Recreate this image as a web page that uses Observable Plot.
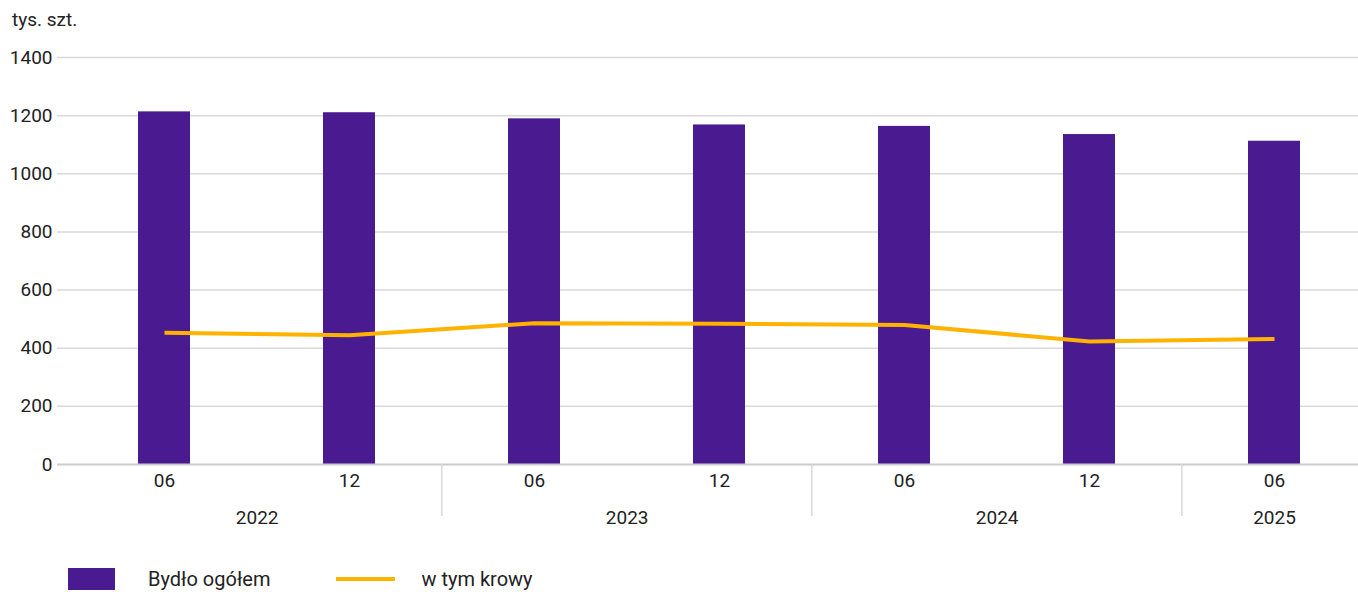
<!DOCTYPE html>
<html><head><meta charset="utf-8">
<script src="https://cdn.jsdelivr.net/npm/d3@7"></script>
<script src="https://cdn.jsdelivr.net/npm/@observablehq/plot@0.6"></script>
<style>
body{margin:0;background:#fff;font-family:Roboto,"Noto Sans",sans-serif;color:#222;overflow:hidden;}
#title{height:40px;line-height:40px;padding-left:12px;font-size:19px;}
#chart svg{display:block;}
#legend{display:flex;align-items:center;padding-left:68px;margin-top:28px;font-size:20px;height:22px;line-height:22px;}
.sw{width:47px;height:22px;background:#4a1a90;margin-right:33px;}
.ln{width:59px;height:4px;background:#ffb300;margin-left:66px;margin-right:26px;}
</style></head><body>
<div id="title">tys. szt.</div>
<div id="chart"></div>
<div id="legend"><div class="sw"></div><span>Bydło ogółem</span><div class="ln"></div><span>w tym krowy</span></div>
<script>
const periods = ["2022-06","2022-12","2023-06","2023-12","2024-06","2024-12","2025-06"];
const months  = ["06","12","06","12","06","12","06"];
const years   = ["2022","2022","2023","2023","2024","2024","2025"];
const bydlo   = [1213,1210,1189,1168,1163,1135,1112];
const krowy   = [453,445,486,484,480,423,432];
const yTicks  = [0,200,400,600,800,1000,1200,1400];

const data = periods.map((p,i)=>({period:p, month:months[i], year:years[i], bydlo:bydlo[i], krowy:krowy[i]}));
const monthOf = new Map(data.map(d=>[d.period,d.month]));

const W = 1358, H = 500, mL = 57, mR = 0, mT = 17, mB = 76;
const xRange = [70.35, 1367.45];
const step = (xRange[1]-xRange[0]) / periods.length;

// year groups
const yearGroups = d3.groups(data, d=>d.year).map(([y, rows])=>({year:y, first:rows[0].period, n:rows.length}));
const separators = yearGroups.slice(1).map(g=>({period:g.first}));

const yearMarks = yearGroups.map(g => Plot.text([g], {
  x: "first", text: "year", frameAnchor: "bottom", lineAnchor: "middle",
  dy: 53, dx: (g.n - 1) * step / 2, fill: "#222"
}));

const chart = Plot.plot({
  width: W, height: H,
  marginLeft: mL, marginRight: mR, marginTop: mT, marginBottom: mB,
  style: {fontFamily: "Roboto, 'Noto Sans', sans-serif", fontSize: "19px", color: "#222", background: "#fff"},
  x: {type: "band", domain: periods, range: xRange, paddingInner: 0.72, paddingOuter: 0.36, label: null},
  y: {domain: [0, 1400], label: null},
  marks: [
    Plot.ruleY(yTicks.filter(d=>d>0), {stroke: "#d9d9d9", strokeWidth: 1.5}),
    Plot.barY(data, {x: "period", y: "bydlo", fill: "#4a1a90"}),
    Plot.ruleY([0], {stroke: "#cccccc", strokeWidth: 2}),
    Plot.lineY(data, {x: "period", y: "krowy", stroke: "#ffb300", strokeWidth: 4, strokeLinecap: "butt", strokeLinejoin: "round"}),
    Plot.axisY({ticks: yTicks, tickSize: 0, tickPadding: 5, tickFormat: d=>String(d), label: null}),
    Plot.axisX({tickSize: 0, tickPadding: 9, tickFormat: d=>monthOf.get(d), label: null}),
    Plot.ruleX(separators, {x: "period", dx: -step/2, stroke: "#d9d9d9", strokeWidth: 1.5, insetTop: H - mT - mB, insetBottom: -52}),
    ...yearMarks
  ]
});
document.getElementById("chart").append(chart);
</script>
</body></html>
